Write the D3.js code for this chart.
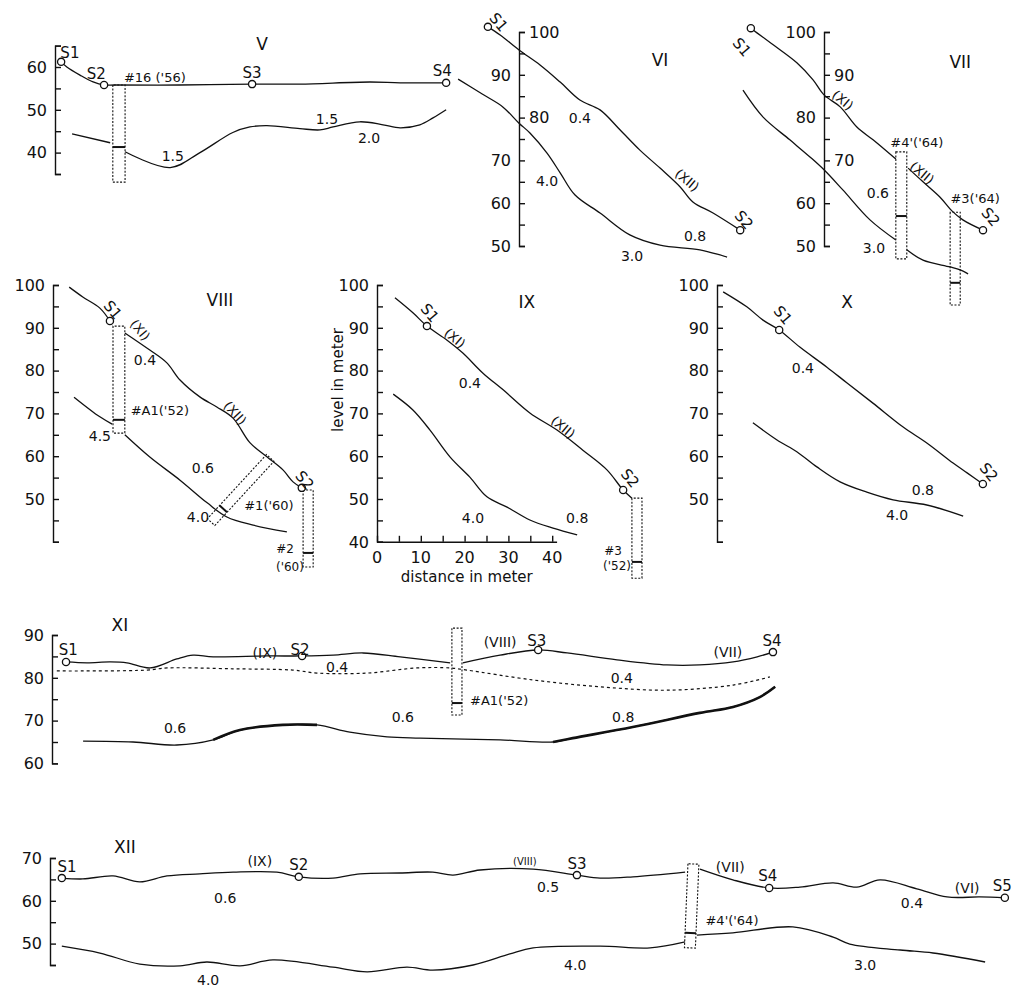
<!DOCTYPE html>
<html>
<head>
<meta charset="utf-8">
<script src="https://cdn.jsdelivr.net/npm/d3@7"></script>
<style>
    body { margin: 0; background: #fff; }
    svg text { font-family: "DejaVu Sans", sans-serif; fill: #111; }
</style>
</head>
<body>
<svg id="svg" width="1013" height="988"></svg>
<script>
// all points are [distance in m, level in m]; null breaks the line (test pit)
var vTop = [[1.4,61.2],[2.7,60.0],[5.7,58.1],[8.7,56.5],[11.2,55.8],[13.7,55.8],[28.5,55.8],[45.0,56.0],[55.9,56.0],[71.9,56.5],[78.8,56.3],[89.3,56.3]];
var vBot = [[3.9,44.4],[12.6,42.3],null,[16.0,40.2],[26.3,36.5],[33.1,40.0],[40.6,44.7],[44.5,46.0],[48.4,46.3],[55.9,45.6],[60.5,45.3],[63.5,46.0],[69.6,47.2],[74.9,46.5],[78.8,45.8],[83.3,46.5],[86.3,48.1],[89.3,50.0]];
var vSt = [[1.4,61.2],[11.2,55.8],[45.0,56.0],[89.3,56.3]];
var vPits = [[14.6,55.8,14.6,33.1,2.8,41.3]];
var vLab = [['V',47.3,65.4,0,17],['S1',3.4,63.3,0,15],['S2',9.4,58.4,0,15],['S3',45.0,58.6,0,15],['S4',88.4,59.1,0,15],["#16 ('56)",22.8,57.7,0,13],['1.5',26.9,39.2],['1.5',62.1,47.9],['2.0',71.7,43.4]];

var viTop = [[-7.1,101.2],[-4.3,99.3],[0,95.8],[4.8,92.3],[9.4,88.3],[13.9,84.1],[18.5,81.8],[23.1,77.1],[27.6,72.4],[32.2,68.2],[36.8,63.8],[39.7,60.3],[44.3,57.7],[50.5,53.7]];
var viBot = [[-13.9,89.0],[-8.4,85.5],[-3.7,82.5],[0,78.7],[2.5,76.4],[6.4,71.7],[9.4,67.1],[12.8,61.9],[18.5,57.7],[25.3,52.6],[32.2,50.2],[41.3,49.1],[47.5,47.4]];
var viSt = [[-7.1,101.2],[50.5,53.7]];
var viPits = [];
var viLab = [['VI',32.2,93.5,0,17],['S1',-4.6,102.3,50,15],['S2',51.4,56.1,50,15],['0.4',13.9,79.9],['4.0',6.4,65.2],['(XII)',38.4,65.4,40,13],['0.8',40.2,52.3],['3.0',25.8,47.7]];

var viiTop = [[-16.7,100.9],[-15.3,99.8],[-11.6,97.0],[-6.2,92.8],[-2.5,88.8],[0,85.3],[3.7,82.5],[7.5,77.8],[11.2,74.8],[16.4,70.3],null,[19.2,68.2],[22.6,65.0],[26.5,61.4],[29.2,58.2],[31.7,56.1],[36.3,53.7]];
var viiBot = [[-18.5,86.4],[-13.9,80.1],[-7.8,74.8],[-3.2,70.8],[0,67.8],[4.3,63.1],[10.5,56.1],[16.4,51.4],null,[18.9,49.1],[22.6,46.7],[28.8,45.1],[31.1,44.4],[32.9,43.5]];
var viiSt = [[-16.7,100.9],[36.3,53.7]];
var viiPits = [[17.65,72.0,17.65,47.0,2.5,57.0],[29.95,57.9,29.95,36.2,2.3,41.4]];
var viiLab = [['VII',31.1,93.0,0,17],['S1',-18.7,96.5,50,15],['S2',38.1,56.8,50,15],['(XI)',4.3,84.1,40,13],['(XII)',22.4,67.1,40,13],['0.6',12.3,62.4],['3.0',11.4,49.5],["#4'('64)",21.2,74.3,0,13],["#3('64)",34.5,61.2,0,13]];

var viiiTop = [[3.7,99.5],[6.8,97.2],[10.7,94.6],[13.0,91.6],null,[16.4,88.8],[22.1,84.8],[26.0,81.8],[29.0,77.8],[33.6,73.8],[37.4,71.5],[41.1,68.9],[45.0,63.1],[48.9,59.8],[52.5,56.8],[54.8,54.0],[56.8,52.6]];
var viiiBot = [[4.8,73.8],[10.7,69.2],[13.5,67.5],null,[16.4,65.0],[22.1,59.8],[29.0,54.4],[35.2,49.1],[39.7,45.8],[45.7,43.9],[53.4,42.3]];
var viiiSt = [[13.0,91.6],[56.8,52.6]];
var viiiPits = [[15.05,90.4,15.05,65.4,2.7,68.5],[49.6,59.6,36.1,44.6,2.3,47.7],[58.25,52.1,58.25,34.1,2.3,37.4]];
var viiiLab = [['VIII',38.1,96.5,0,17],['S1',13.7,94.2,50,15],['(XI)',19.9,89.5,50,13],['0.4',21.0,82.5],["#A1('52)",24.4,70.8,0,13],['(XII)',41.6,70.1,48,13],['4.5',10.7,64.7],['0.6',34.2,57.2],['4.0',33.1,45.8],["#1('60)",49.3,48.6,0,13],['S2',57.5,54.4,50,15],['#2',53.0,38.5,0,12],["('60)",54.1,34.2,0,12]];

var ixTop = [[4.1,97.0],[8.2,93.5],[11.4,90.4],[16.0,87.1],[19.6,84.1],[24.2,79.4],[28.8,75.5],[34.9,70.1],[41.1,66.1],[47.0,61.4],[52.5,56.8],[56.2,52.1],[58.2,50.2]];
var ixBot = [[3.7,74.5],[8.2,70.8],[12.1,66.1],[16.7,59.8],[21.2,55.1],[25.1,50.5],[29.7,48.1],[34.9,45.1],[40.2,43.2],[45.7,41.6]];
var ixSt = [[11.4,90.4],[56.2,52.1]];
var ixPits = [[59.35,50.2,59.35,31.5,2.3,35.3]];
var ixLab = [['IX',34.2,96.0,0,17],['S1',12.1,93.5,50,15],['(XI)',17.8,87.6,40,13],['0.4',21.2,77.1],['(XII)',42.5,66.8,40,13],['S2',57.8,54.9,50,15],['4.0',21.9,45.6],['0.8',45.7,45.6],['#3',53.9,37.9,0,12],["('52)",54.8,34.5,0,12],['level in meter',-9.1,77.8,-90,15],['distance in meter',20.5,31.8,0,15]];
var ixDistTicks = [0, 10, 20, 30, 40];

var xTop = [[1.4,98.4],[6.8,94.9],[10.5,91.8],[14.2,89.5],[18.9,85.5],[25.1,80.8],[29.7,77.1],[35.6,72.4],[42.5,66.8],[47.9,63.1],[53.9,58.4],[57.1,56.1],[60.7,53.5]];
var xBot = [[8.2,67.8],[13.7,63.8],[18.3,61.0],[22.8,57.5],[28.1,54.0],[34.2,51.6],[40.2,49.8],[47.9,48.6],[56.2,46.0]];
var xSt = [[14.2,89.5],[60.7,53.5]];
var xPits = [];
var xLab = [['X',29.7,96.0,0,17],['S1',15.1,93.0,50,15],['S2',62.1,56.3,50,15],['0.4',19.6,80.6],['0.8',47.0,52.1],['4.0',41.1,46.3]];

var xiTop = [[3.2,83.7],[8.0,83.5],[13.2,83.7],[17.1,83.5],[22.4,82.3],[28.5,84.4],[32.2,85.3],[36.8,84.9],[49.1,85.1],[57.1,85.1],[64.2,85.3],[71.0,85.8],[79.5,84.9],[90.9,83.5],null,[93.8,83.5],[102.3,85.3],[111.0,86.5],[117.6,85.8],[129.0,84.2],[140.4,83.0],[147.9,83.0],[155.5,83.7],[161.0,84.9],[164.6,86.0]];
var xiMid = [[1.1,81.6],[21.7,81.8],[26.3,82.3],[41.3,82.1],[55.0,81.8],[60.5,81.1],[71.9,81.1],[83.3,82.3],[90.9,82.3],[94.7,81.8],[109.8,79.5],[125.1,77.9],[140.4,77.1],[155.5,78.3],[163.9,80.2]];
var xiBot = [[7.1,65.2],[18.5,65.0],[28.5,64.3],[36.8,65.5],[42.9,67.8],[52.7,69.0],[60.5,69.0],[68.0,67.3],[76.5,66.2],[84.0,65.9],[102.3,65.5],[114.4,65.0],[118.9,65.9],[132.6,68.5],[147.9,71.8],[155.5,73.2],[161.6,75.5],[165.1,77.9]];
var xiThick = [[36, 62], [114, 166]];
var xiSt = [[3.2,83.7],[57.1,85.1],[111.0,86.5],[164.6,86.0]];
var xiPits = [[92.45,91.6,92.45,71.3,2.3,74.1]];
var xiLab = [['XI',15.5,92.3,0,17],['S1',3.7,86.5,0,15],['(IX)',48.6,85.8,0,14],['S2',56.6,86.5,0,15],['0.4',65.1,82.5],['0.6',28.1,68.3],['0.6',80.1,70.8],['(VIII)',102.3,88.4,0,14],['S3',110.7,88.8,0,15],['(VII)',154.3,86.0,0,14],['S4',164.4,88.6,0,15],['0.4',130.1,80.0],['0.8',130.4,70.8],["#A1('52)",102.1,74.8,0,13]];

var xiiTop = [[2.7,65.3],[7.5,65.1],[14.4,65.8],[20.5,64.4],[26.7,65.8],[34.2,66.3],[41.8,66.7],[51.8,66.7],[56.8,65.6],[64.6,65.3],[70.8,66.3],[79.9,66.5],[87.4,66.7],[92.0,66.0],[98.2,67.2],[110.3,67.4],[120.3,66.0],[125.6,65.3],[133.1,65.6],[145.0,66.7],null,[148.4,67.4],[155.9,64.9],[164.2,63.0],[171.2,63.2],[178.8,64.2],[184.2,63.2],[189.5,64.9],[197.9,62.8],[204.8,60.9],[212.3,60.9],[218.0,60.7]];
var xiiBot = [[2.7,49.4],[11.4,47.8],[20.5,45.2],[29.7,44.8],[35.8,45.7],[43.4,44.8],[50.9,46.2],[64.6,44.5],[72.4,43.4],[81.5,44.5],[87.4,43.8],[96.6,45.0],[105.0,47.6],[110.3,49.0],[125.6,49.4],[137.0,49.0],[145.0,50.4],null,[147.7,52.0],[155.9,52.5],[169.6,53.9],[178.8,51.5],[182.6,49.9],[194.1,48.5],[201.6,47.8],[213.5,45.7]];
var xiiSt = [[2.7,65.3],[56.8,65.6],[120.3,66.0],[164.2,63.0],[218.0,60.7]];
var xiiPits = [[146.9,68.6,146.1,49.0,2.5,52.5]];
var xiiLab = [['XII',17.1,72.6,0,17],['S1',3.9,67.9,0,15],['(IX)',47.9,69.3,0,14],['S2',56.8,68.4,0,15],['0.6',40.0,60.7],['4.0',36.1,41.6],['(VIII)',108.4,69.1,0,10],['S3',120.3,68.6,0,15],['0.5',113.7,63.2],['(VII)',155.3,67.9,0,14],['S4',163.9,65.8,0,15],['0.4',196.8,59.5],['(VI)',209.4,63.0,0,14],['S5',217.4,63.5,0,15],['4.0',119.9,45.0],['3.0',186.1,45.0],["#4'('64)",155.7,55.5,0,13]];

// layout: pixels per metre, and where each profile's level axis sits on the page
var SX = 4.38, SY = 4.28;
var frames = {
    V:    {ox: 55,  lvl: 60,  py: 67,  dom: [35, 65],  right: [], skip: []},
    VI:   {ox: 519, lvl: 100, py: 32,  dom: [50, 100], right: [100, 80], skip: []},
    VII:  {ox: 824, lvl: 100, py: 32,  dom: [50, 100], right: [90, 70], skip: []},
    VIII: {ox: 53,  lvl: 100, py: 285, dom: [40, 100], right: [], skip: [40]},
    IX:   {ox: 377, lvl: 100, py: 285, dom: [40, 100], right: [], skip: [], xaxis: true},
    X:    {ox: 717, lvl: 100, py: 285, dom: [40, 100], right: [], skip: [40]},
    XI:   {ox: 52,  lvl: 90,  py: 635, dom: [60, 90],  right: [], skip: []},
    XII:  {ox: 50,  lvl: 70,  py: 858, dom: [45, 70],  right: [], skip: []}
};

var panels = [
    {f: frames.V,    lines: [vTop, vBot],       st: vSt,    pits: vPits,    lab: vLab},
    {f: frames.VI,   lines: [viTop, viBot],     st: viSt,   pits: viPits,   lab: viLab},
    {f: frames.VII,  lines: [viiTop, viiBot],   st: viiSt,  pits: viiPits,  lab: viiLab},
    {f: frames.VIII, lines: [viiiTop, viiiBot], st: viiiSt, pits: viiiPits, lab: viiiLab},
    {f: frames.IX,   lines: [ixTop, ixBot],     st: ixSt,   pits: ixPits,   lab: ixLab},
    {f: frames.X,    lines: [xTop, xBot],       st: xSt,    pits: xPits,    lab: xLab},
    {f: frames.XI,   lines: [xiTop, xiBot],     st: xiSt,   pits: xiPits,   lab: xiLab, dashed: xiMid, thick: xiThick},
    {f: frames.XII,  lines: [xiiTop, xiiBot],   st: xiiSt,  pits: xiiPits,  lab: xiiLab}
];

var svg = d3.select('#svg');
var INK = '#111';

function drawPit(g, x, y, p) {
    var x1 = x(p[0]), y1 = y(p[1]), x2 = x(p[2]), y2 = y(p[3]);
    var len = Math.hypot(x2 - x1, y2 - y1),
        ux = (x2 - x1) / len, uy = (y2 - y1) / len,
        hw = p[4] * SX / 2,
        nx = -uy * hw, ny = ux * hw;
    var pts = [[x1 + nx, y1 + ny], [x2 + nx, y2 + ny], [x2 - nx, y2 - ny], [x1 - nx, y1 - ny]];
    g.append('polygon')
        .attr('points', pts.map(function (q) { return q.join(','); }).join(' '))
        .attr('fill', 'none').attr('stroke', INK).attr('stroke-width', 1.1)
        .attr('stroke-dasharray', '2,1.6');

    // ground water / bottom mark inside the pit
    var t = (p[5] - p[1]) / (p[3] - p[1]),
        mx = x1 + (x2 - x1) * t, my = y1 + (y2 - y1) * t;
    g.append('line')
        .attr('x1', mx - nx).attr('y1', my - ny)
        .attr('x2', mx + nx).attr('y2', my + ny)
        .attr('stroke', INK).attr('stroke-width', 2);
}

panels.forEach(function (p) {
    var f = p.f;
    var y = d3.scaleLinear().domain(f.dom)
        .range([f.py + (f.lvl - f.dom[0]) * SY, f.py - (f.dom[1] - f.lvl) * SY]);
    var x = d3.scaleLinear().domain([0, 41]).range([f.ox, f.ox + 41 * SX]);
    var g = svg.append('g');

    var line = d3.line()
        .defined(function (d) { return d; })
        .x(function (d) { return x(d[0]); })
        .y(function (d) { return y(d[1]); })
        .curve(d3.curveCatmullRom);

    // level axis, "[" shaped, ticks every 5 m
    g.append('g')
        .attr('transform', 'translate(' + f.ox + ',0)')
        .call(d3.axisRight(y)
            .tickValues(d3.range(f.dom[0], f.dom[1] + 0.1, 5))
            .tickSize(6).tickFormat(''))
        .call(function (s) {
            s.selectAll('path, line').attr('stroke', INK).attr('stroke-width', 1.4);
        });

    d3.range(Math.ceil(f.dom[0] / 10) * 10, f.dom[1] + 0.1, 10).forEach(function (v) {
        if (f.skip.indexOf(v) >= 0) return;
        var r = f.right.indexOf(v) >= 0;
        g.append('text')
            .attr('x', r ? f.ox + 10 : f.ox - 8)
            .attr('y', y(v))
            .attr('dy', '0.36em')
            .attr('text-anchor', r ? 'start' : 'end')
            .attr('font-size', 16)
            .text(v);
    });

    if (f.xaxis) {
        g.append('g')
            .attr('transform', 'translate(0,' + y(f.dom[0]) + ')')
            .call(d3.axisTop(x)
                .tickValues(d3.range(0, 41, 5))
                .tickSize(6).tickSizeOuter(0).tickFormat(''))
            .call(function (s) {
                s.selectAll('path, line').attr('stroke', INK).attr('stroke-width', 1.4);
            });
        ixDistTicks.forEach(function (v) {
            g.append('text')
                .attr('x', x(v)).attr('y', y(f.dom[0]) + 15)
                .attr('dy', '0.36em').attr('text-anchor', 'middle')
                .attr('font-size', 16).text(v);
        });
    }

    p.lines.forEach(function (data) {
        g.append('path').attr('d', line(data))
            .attr('fill', 'none').attr('stroke', INK).attr('stroke-width', 1.3);
    });

    if (p.dashed) {
        g.append('path').attr('d', line(p.dashed))
            .attr('fill', 'none').attr('stroke', INK).attr('stroke-width', 1.2)
            .attr('stroke-dasharray', '3,3');
    }

    if (p.thick) {
        p.thick.forEach(function (rg) {
            var seg = p.lines[1].filter(function (d) { return d && d[0] >= rg[0] && d[0] <= rg[1]; });
            g.append('path').attr('d', line(seg))
                .attr('fill', 'none').attr('stroke', INK).attr('stroke-width', 2.6);
        });
    }

    p.pits.forEach(function (pt) { drawPit(g, x, y, pt); });

    g.selectAll('circle.st').data(p.st).enter().append('circle')
        .attr('class', 'st')
        .attr('cx', function (d) { return x(d[0]); })
        .attr('cy', function (d) { return y(d[1]); })
        .attr('r', 3.6)
        .attr('fill', '#fff').attr('stroke', INK).attr('stroke-width', 1.3);

    g.selectAll('text.lab').data(p.lab).enter().append('text')
        .attr('class', 'lab')
        .attr('transform', function (d) {
            return 'translate(' + x(d[1]) + ',' + y(d[2]) + ')' + (d[3] ? ' rotate(' + d[3] + ')' : '');
        })
        .attr('dy', '0.36em')
        .attr('text-anchor', 'middle')
        .attr('font-size', function (d) { return d[4] || 14; })
        .text(function (d) { return d[0]; });
});
</script>
</body>
</html>
